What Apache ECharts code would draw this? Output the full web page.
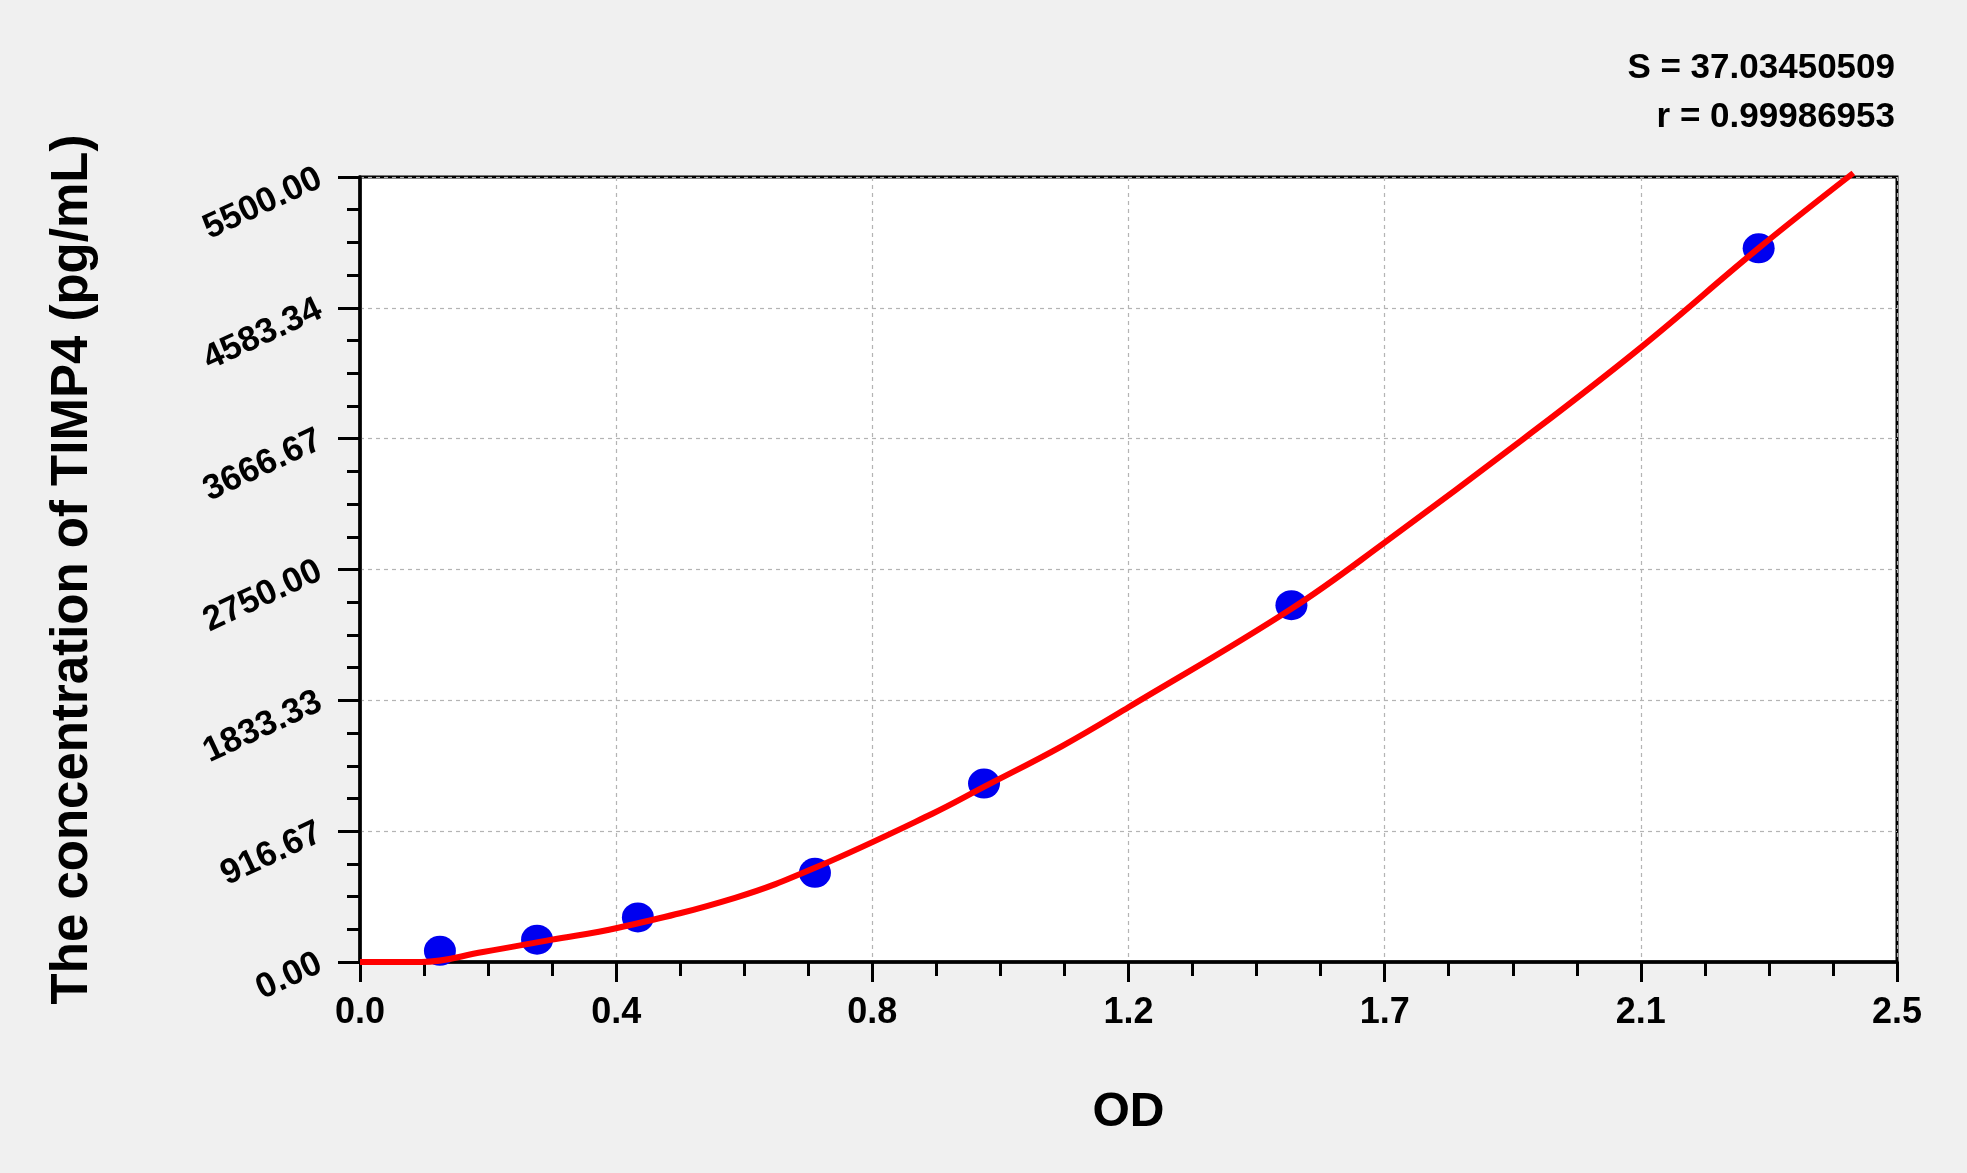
<!DOCTYPE html>
<html>
<head>
<meta charset="utf-8">
<script src="https://cdn.jsdelivr.net/npm/echarts@6/dist/echarts.min.js"></script>
<style>
  html, body { margin: 0; padding: 0; background: #f0f0f0; }
  #chart { width: 1967px; height: 1173px; }
</style>
</head>
<body>
<div id="chart"></div>
<script>
// Standard points (OD vs concentration)
const odValues = [0.130, 0.288, 0.452, 0.740, 1.015, 1.515, 2.275];
const concValues = [78.13, 156.25, 312.5, 625, 1250, 2500, 5000];

// Fitted curve
const curveOD = [0, 0.10, 0.20, 0.31, 0.42, 0.61, 0.74, 0.93, 1.014, 1.142, 1.25, 1.515, 1.667, 1.893, 2.083, 2.276, 2.429];
const curveConc = [0, 0, 70, 155, 240, 450, 660, 1037, 1225, 1513, 1785, 2475, 2940, 3667, 4305, 5005, 5528];

// Tick labels
const xTickLabels = ["0.0", "0.4", "0.8", "1.2", "1.7", "2.1", "2.5"];
const yTickLabels = ["0.00", "916.67", "1833.33", "2750.00", "3666.67", "4583.34", "5500.00"];

const statS = "S = 37.03450509";
const statR = "r = 0.99986953";
const xTitle = "OD";
const yTitle = "The concentration of TIMP4 (pg/mL)";

const FONT = "'Liberation Sans', Arial, sans-serif";

const chart = echarts.init(document.getElementById('chart'));

const pointData = odValues.map((x, i) => [x, concValues[i]]);
const curveData = curveOD.map((x, i) => [x, curveConc[i]]);

function tickIndex(v, step) { return Math.round(v / step); }

const xStep = 2.5 / 6;
const yStep = 5500 / 6;

chart.setOption({
  backgroundColor: '#f0f0f0',
  animation: false,
  title: [
    { text: statS, right: 67, top: 46,
      textStyle: { fontFamily: FONT, fontSize: 35, fontWeight: 'bold', color: '#000' } },
    { text: statR, right: 67, top: 95,
      textStyle: { fontFamily: FONT, fontSize: 35, fontWeight: 'bold', color: '#000' } }
  ],
  grid: {
    left: 360, top: 177, right: 70, bottom: 211,
    show: true, backgroundColor: '#ffffff', borderColor: '#000', borderWidth: 3,
    containLabel: false
  },
  xAxis: {
    type: 'value', min: 0, max: 2.5, interval: xStep,
    name: xTitle, nameLocation: 'middle', nameGap: 127,
    nameTextStyle: { fontFamily: FONT, fontSize: 48, fontWeight: 'bold', color: '#000' },
    axisLine: { show: true, onZero: false, lineStyle: { color: '#000', width: 3.5 } },
    axisTick: { show: true, inside: false, length: 20, lineStyle: { color: '#000', width: 3 } },
    minorTick: { show: true, splitNumber: 4, length: 14, lineStyle: { color: '#000', width: 3 } },
    axisLabel: {
      margin: 33, fontFamily: FONT, fontSize: 36, fontWeight: 'bold', color: '#000',
      formatter: (v) => xTickLabels[tickIndex(v, xStep)] || ''
    },
    splitLine: { show: true, lineStyle: { color: '#b4b4b4', width: 1.2, type: [4, 4] } }
  },
  yAxis: {
    type: 'value', min: 0, max: 5500, interval: yStep,
    name: yTitle, nameLocation: 'middle', nameGap: 262,
    nameTextStyle: { fontFamily: FONT, fontSize: 51, fontWeight: 'bold', color: '#000' },
    axisLine: { show: true, onZero: false, lineStyle: { color: '#000', width: 3.5 } },
    axisTick: { show: true, inside: false, length: 22, lineStyle: { color: '#000', width: 3 } },
    minorTick: { show: true, splitNumber: 4, length: 13, lineStyle: { color: '#000', width: 3 } },
    axisLabel: {
      margin: 40, rotate: 25, fontFamily: FONT, fontSize: 35, fontWeight: 'bold', color: '#000',
      formatter: (v) => yTickLabels[tickIndex(v, yStep)] || ''
    },
    splitLine: { show: true, lineStyle: { color: '#b4b4b4', width: 1.2, type: [4, 4] } }
  },
  series: [
    {
      name: 'Standards', type: 'scatter', data: pointData, z: 2,
      symbol: 'circle', symbolSize: [32, 30],
      itemStyle: { color: '#0000f0', opacity: 1 }
    },
    {
      name: 'Fit', type: 'line', data: curveData, z: 3, clip: false,
      showSymbol: false, smooth: 0.4,
      lineStyle: { color: '#ff0000', width: 6 }
    }
  ]
});
</script>
</body>
</html>
